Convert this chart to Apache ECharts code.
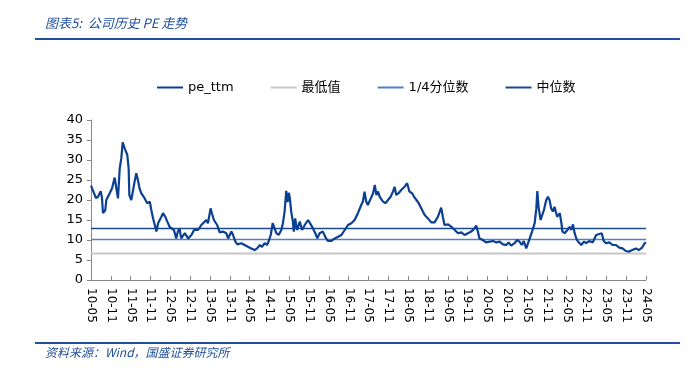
<!DOCTYPE html>
<html><head><meta charset="utf-8">
<script src="https://cdn.jsdelivr.net/npm/echarts@6/dist/echarts.min.js"></script>
<style>html,body{margin:0;padding:0;background:#fff}#c{width:692px;height:372px}</style>
</head><body><div id="c"></div>
<script>
// x position: months since 2010-05
const months = [0,1.12,1.5,2.12,2.94,3.33,3.63,4.33,4.63,5.66,6.36,7.17,7.66,8.17,8.69,9.17,9.59,10.2,10.5,10.99,11.4,11.6,12.2,12.7,13.2,13.7,14.2,14.7,15.2,16.25,17.0,17.8,18.25,18.8,19.3,19.8,20.3,21.3,21.8,22.5,23.1,23.8,24.3,25.1,25.8,26.3,26.8,27.3,28.4,29.4,30.4,31.2,32.4,33.4,
33.9,34.9,35.4,36.2,36.6,37.2,37.6,38.2,38.95,39.95,40.95,41.5,42.5,43.0,43.7,44.3,45.5,46.5,47.5,48.5,49.5,50.3,51.1,51.75,52.6,53.3,53.8,54.4,55.0,55.4,56.1,56.8,57.6,58.1,58.6,59.1,59.5,59.9,60.2,60.6,61.1,61.4,61.8,62.4,63.2,63.9,64.7,65.7,66.5,
67.2,67.9,68.5,69.2,70.2,70.9,71.7,72.7,73.8,74.8,75.8,76.8,77.8,78.8,79.8,80.8,81.8,82.3,82.8,83.3,83.8,84.7,85.4,85.9,86.4,86.9,87.4,88.4,89.1,89.9,90.7,91.4,91.9,92.4,93.1,93.9,94.9,95.7,96.4,97.2,97.8,98.5,99.2,
100.0,101.0,102.0,103.0,104.0,105.0,106.0,106.5,107.0,108.1,109.1,110.1,111.1,112.1,113.1,114.1,115.1,116.1,116.6,117.1,117.6,118.6,119.6,120.7,121.7,122.7,123.7,124.7,125.7,126.4,127.2,128.2,129.0,129.7,130.4,131.0,131.75,132.3,132.8,133.5,
134.3,134.8,135.1,135.5,136.1,136.5,137.1,137.8,138.3,138.8,139.3,139.8,140.3,141.1,141.9,142.4,142.7,143.4,144.2,144.9,145.4,145.9,146.4,146.9,147.4,148.4,149.2,149.9,150.9,151.9,152.9,153.4,153.9,154.6,155.2,155.9,156.9,157.9,158.9,159.9,160.9,161.9,162.9,163.9,164.9,165.9,166.8,167.6,168];
const peTtm = [23.6,21.3,20.5,20.8,22.2,20.5,16.7,17.5,20.0,21.7,22.9,25.6,23.0,20.4,27.9,30.4,34.4,32.9,33.0,31.25,27.9,21.25,20.0,20.4,24.6,26.7,25.0,22.9,21.7,20.4,19.2,19.6,17.5,15.4,13.75,12.1,14.2,15.8,16.7,15.8,14.6,13.3,13.75,12.5,10.4,12.1,12.9,10.4,11.7,10.4,11.25,12.5,12.5,13.75,
14.2,15.0,14.2,17.9,16.7,15.0,15.4,13.75,11.9,12.1,11.7,10.4,12.1,11.25,9.6,8.9,9.2,8.75,8.3,7.9,7.5,7.9,8.75,8.3,9.2,8.75,9.75,11.25,14.2,13.75,11.7,11.25,12.5,14.2,17.1,22.3,19.5,21.8,20.4,17.1,14.6,12.1,15.4,12.5,14.6,12.5,13.75,15.0,13.9,
12.9,11.7,10.4,11.7,12.1,10.8,9.75,9.75,10.4,10.8,11.25,12.5,13.75,14.2,15.0,16.7,18.75,19.6,22.1,19.6,18.75,20.4,21.7,23.75,21.25,22.1,20.8,19.6,19.2,20.0,20.8,22.1,23.3,21.25,21.7,22.5,23.3,24.2,22.1,21.7,20.8,20.0,19.2,
17.9,16.25,15.4,14.4,14.4,15.8,18.1,15.8,13.75,13.9,13.3,12.5,11.7,11.9,11.25,11.7,12.1,12.9,13.6,12.1,10.4,10.0,9.4,9.6,9.75,9.4,9.6,8.9,8.75,9.4,8.6,9.2,10.0,9.6,8.75,9.75,7.9,8.3,10.4,12.1,
14.2,17.9,22.25,18.1,15.0,16.0,17.5,20.0,20.8,20.0,17.9,17.1,18.3,15.8,16.7,14.2,12.1,11.7,12.5,13.3,12.5,13.9,11.7,10.4,9.6,8.75,9.6,9.2,9.75,9.4,11.25,11.7,11.5,11.7,9.75,9.2,9.4,8.75,8.75,8.1,7.9,7.25,7.1,7.5,7.9,7.5,8.1,9.2,9.4];
const minValue = 6.6;
const quartileValue = 10.1;
const medianValue = 12.9;
const seriesNames = ['pe_ttm','最低值','1/4分位数','中位数'];
const yTicks = [0,5,10,15,20,25,30,35,40];

const chart = echarts.init(document.getElementById('c'), null, {renderer:'canvas'});
const pe = months.map((m,i)=>[m, peTtm[i]]);
const flat = v => [[months[0], v],[months[months.length-1], v]];
const fontLatin = '"DejaVu Sans", "Noto Sans CJK SC", sans-serif';
chart.setOption({
  animation:false,
  grid:{left:91, right:46, top:120, bottom:92},
  legend:{
    data:seriesNames, left:152, top:76, itemGap:37, itemWidth:26, itemHeight:2, icon:'rect',
    textStyle:{fontFamily:fontLatin, fontSize:13, color:'#000'}
  },
  graphic:[
    {type:'text', left:45, top:17, style:{text:'图表5:  公司历史 PE 走势', fill:'#1F4E9A', font:'italic 13px "Noto Sans CJK SC", sans-serif'}},
    {type:'line', shape:{x1:35,y1:39,x2:680,y2:39}, style:{stroke:'#1F4E9A', lineWidth:2}},
    {type:'line', shape:{x1:35,y1:343,x2:680,y2:343}, style:{stroke:'#1F4E9A', lineWidth:2}},
    {type:'text', left:45, top:346, style:{text:'资料来源：Wind，国盛证券研究所', fill:'#1F4E9A', font:'italic 12px "Noto Sans CJK SC", sans-serif'}}
  ],
  xAxis:{
    type:'value', min:0, max:168, interval:6,
    axisLine:{show:true, lineStyle:{color:'#888', width:1}},
    axisTick:{show:true, inside:true, length:4, lineStyle:{color:'#888'}},
    splitLine:{show:false},
    axisLabel:{rotate:-90, margin:8, fontFamily:fontLatin, fontSize:12, color:'#000',
      formatter:function(v){const t=4+Math.round(v); const y=10+Math.floor(t/12); const mo=t%12+1; return y+'-'+(mo<10?'0'+mo:mo);}}
  },
  yAxis:{
    type:'value', min:yTicks[0], max:yTicks[yTicks.length-1], interval:5,
    axisLine:{show:true, lineStyle:{color:'#888', width:1}},
    axisTick:{show:true, length:4, lineStyle:{color:'#888'}},
    splitLine:{show:false},
    axisLabel:{fontFamily:fontLatin, fontSize:13, color:'#000', margin:8}
  },
  series:[
    {name:seriesNames[1], type:'line', data:flat(minValue), showSymbol:false, lineStyle:{color:'#C8C8C8', width:2}, itemStyle:{color:'#C8C8C8'}, z:1},
    {name:seriesNames[2], type:'line', data:flat(quartileValue), showSymbol:false, lineStyle:{color:'#4F81C8', width:1.5}, itemStyle:{color:'#4F81C8'}, z:2},
    {name:seriesNames[3], type:'line', data:flat(medianValue), showSymbol:false, lineStyle:{color:'#1B4A94', width:1.5}, itemStyle:{color:'#1B4A94'}, z:3},
    {name:seriesNames[0], type:'line', data:pe, showSymbol:false, lineStyle:{color:'#0B3F91', width:2.2}, itemStyle:{color:'#0B3F91'}, z:4}
  ]
});
</script></body></html>
